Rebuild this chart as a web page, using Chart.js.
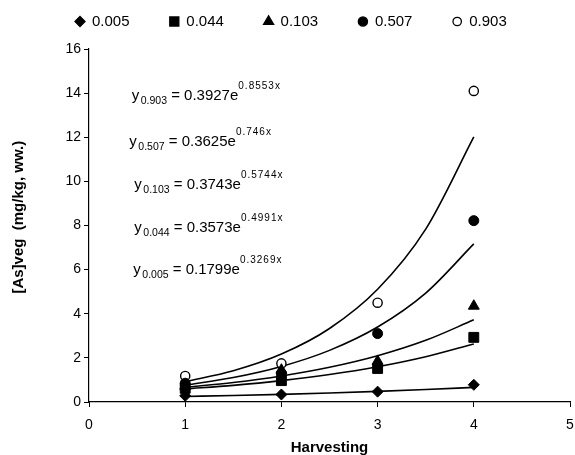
<!DOCTYPE html>
<html><head><meta charset="utf-8">
<script src="https://cdn.jsdelivr.net/npm/chart.js@4.4.0/dist/chart.umd.min.js"></script>
<style>html,body{margin:0;padding:0;background:#fff;overflow:hidden}</style>
</head><body>
<canvas id="c" width="575" height="455"></canvas>
<script>
// ---- data ----
const harvest = [1, 2, 3, 4];
const seriesLabels = ['0.005', '0.044', '0.103', '0.507', '0.903'];
const s005 = [0.28, 0.34, 0.47, 0.78];
const s044 = [0.62, 0.97, 1.52, 2.93];
const s103 = [0.72, 1.45, 1.85, 4.35];
const s507 = [0.85, 1.30, 3.10, 8.22];
const s903 = [1.18, 1.75, 4.50, 14.10];
// trend curves (values of the fitted exponential curves shown in the chart)
const trendX = [1, 1.5, 2, 2.5, 3, 3.5, 4];
const t005 = [0.250, 0.294, 0.346, 0.407, 0.480, 0.565, 0.665];
const t044 = [0.589, 0.755, 0.970, 1.244, 1.597, 2.050, 2.631];
const t103 = [0.665, 0.886, 1.181, 1.574, 2.097, 2.795, 3.724];
const t507 = [0.764, 1.110, 1.612, 2.340, 3.398, 4.935, 7.165];
const t903 = [0.924, 1.417, 2.173, 3.332, 5.110, 7.837, 12.019];
// equation labels
const eqSub = ['0.903', '0.507', '0.103', '0.044', '0.005'];
const eqCoef = ['0.3927', '0.3625', '0.3743', '0.3573', '0.1799'];
const eqExp = ['0.8553x', '0.746x', '0.5744x', '0.4991x', '0.3269x'];
const xTicks = [0, 1, 2, 3, 4, 5];
const yTicks = [0, 2, 4, 6, 8, 10, 12, 14, 16];

const FONT = '"Liberation Sans", Arial, sans-serif';
const seriesVals = [s005, s044, s103, s507, s903];
const trendVals = [t005, t044, t103, t507, t903];
const styles = [
  {pointStyle: 'rectRot', radius: 5.5, bg: '#000', lr: 5},
  {pointStyle: 'rect', radius: 7, bg: '#000', lr: 6.4},
  {pointStyle: 'triangle', radius: 6.3, bg: '#000', lr: 5.8},
  {pointStyle: 'circle', radius: 5, bg: '#000', lr: 4.6},
  {pointStyle: 'circle', radius: 4.6, bg: '#fff', lr: 4.2}
];

const datasets = [];
seriesLabels.forEach((lab, i) => {
  datasets.push({
    label: 'trend ' + lab,
    data: trendX.map((x, j) => ({x: x, y: trendVals[i][j]})),
    showLine: true, pointRadius: 0, pointHoverRadius: 0,
    borderColor: '#000', borderWidth: 1.6, fill: false,
    cubicInterpolationMode: 'monotone', order: 2
  });
});
seriesLabels.forEach((lab, i) => {
  datasets.push({
    label: lab,
    data: harvest.map((x, j) => ({x: x, y: seriesVals[i][j]})),
    showLine: false,
    pointStyle: styles[i].pointStyle,
    pointRadius: styles[i].radius,
    pointHoverRadius: styles[i].radius,
    backgroundColor: styles[i].bg,
    borderColor: '#000',
    borderWidth: i === 4 ? 1.4 : 1,
    order: 1
  });
});

function drawMarker(c, st, x, y, r) {
  c.save();
  c.fillStyle = st.bg; c.strokeStyle = '#000'; c.lineWidth = 1.3;
  if (Chart.helpers && Chart.helpers.drawPoint) {
    Chart.helpers.drawPoint(c, {pointStyle: st.pointStyle, radius: r, borderWidth: 1.3, rotation: 0}, x, y);
  }
  c.restore();
}

const legendPlugin = {
  id: 'customLegend',
  afterDraw(chart) {
    const c = chart.ctx;
    c.save();
    c.font = '15px ' + FONT;
    c.textBaseline = 'middle';
    c.fillStyle = '#000';
    seriesLabels.forEach((lab, i) => {
      const cx = 80 + i * 94.3, cy = 21.5;
      drawMarker(c, styles[i], cx, cy, styles[i].lr);
      c.fillStyle = '#000';
      c.fillText(lab, cx + 12, cy);
    });
    c.restore();
  }
};

const eqPos = [[131.7, 100], [129.3, 146], [134.3, 189], [134.3, 231.5], [133.3, 274]];
const equationPlugin = {
  id: 'equations',
  afterDraw(chart) {
    const c = chart.ctx;
    c.save();
    c.fillStyle = '#000';
    c.textBaseline = 'alphabetic';
    eqSub.forEach((sub, i) => {
      let [x, y] = eqPos[i];
      c.letterSpacing = '0px';
      c.font = '15px ' + FONT;
      c.fillText('y', x, y); x += c.measureText('y').width + 1.5;
      c.font = '10.5px ' + FONT;
      c.fillText(sub, x, y + 4); x += c.measureText(sub).width;
      c.font = '15px ' + FONT;
      const mid = ' = ' + eqCoef[i] + 'e';
      c.fillText(mid, x, y); x += c.measureText(mid).width;
      c.font = '10px ' + FONT;
      c.letterSpacing = '1px';
      c.fillText(eqExp[i], x, y - 11);
      c.letterSpacing = '0px';
    });
    c.restore();
  }
};

new Chart(document.getElementById('c'), {
  type: 'scatter',
  data: {datasets: datasets},
  options: {
    responsive: false,
    animation: false,
    devicePixelRatio: 1,
    layout: {autoPadding: false, padding: {top: 49, right: 5, left: 0, bottom: 0}},
    plugins: {legend: {display: false}, tooltip: {enabled: false}},
    scales: {
      x: {
        type: 'linear', min: 0, max: 5,
        afterBuildTicks: (s) => { s.ticks = xTicks.map(v => ({value: v})); },
        afterFit: (s) => { s.height = 53; s.paddingRight = 0; s.paddingLeft = 0; },
        ticks: {color: '#000', font: {family: FONT, size: 14}, padding: 10},
        grid: {drawOnChartArea: false, drawTicks: true, tickLength: 5, color: '#000', lineWidth: 1},
        border: {display: true, color: '#000', width: 1.2},
        title: {display: true, text: 'Harvesting', color: '#000',
          font: {family: FONT, size: 15, weight: 'bold', lineHeight: 1}, padding: {top: 0, bottom: 0}}
      },
      y: {
        type: 'linear', min: 0, max: 16,
        afterBuildTicks: (s) => { s.ticks = yTicks.map(v => ({value: v})); },
        afterFit: (s) => { s.width = 89; s.paddingTop = 0; s.paddingBottom = 0; },
        ticks: {color: '#000', font: {family: FONT, size: 14}, padding: 3},
        grid: {drawOnChartArea: false, drawTicks: true, tickLength: 5, color: '#000', lineWidth: 1},
        border: {display: true, color: '#000', width: 1.2},
        title: {display: true, text: '    [As]veg  (mg/kg, ww.)', color: '#000',
          font: {family: FONT, size: 15, weight: 'bold', lineHeight: 1}, padding: {top: 11.5, bottom: 0}}
      }
    }
  },
  plugins: [legendPlugin, equationPlugin]
});
</script>
</body></html>
